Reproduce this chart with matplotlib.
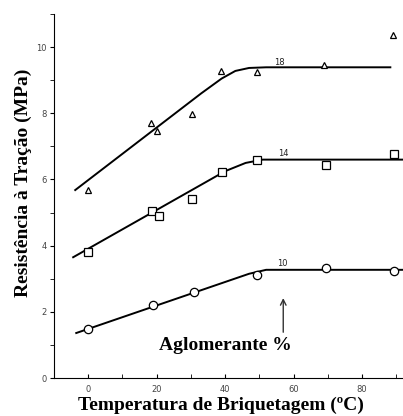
import matplotlib
matplotlib.use("Agg")
import matplotlib.pyplot as plt
from matplotlib.ticker import MultipleLocator

# measured points (temperature degC, strength MPa)
t18 = [0, 18.4, 20.2, 30.4, 38.9, 49.4, 69.0, 89.0]
s18 = [5.68, 7.7, 7.46, 7.98, 9.27, 9.25, 9.46, 10.36]
t14 = [0, 18.6, 20.8, 30.4, 39.1, 49.4, 69.5, 89.3]
s14 = [3.8, 5.05, 4.9, 5.4, 6.22, 6.6, 6.45, 6.77]
t10 = [0, 19.0, 30.8, 49.4, 69.6, 89.3]
s10 = [1.48, 2.2, 2.6, 3.1, 3.32, 3.24]

# fitted curves (knots)
fit18_x = [-3.8, 33, 39, 43, 47, 52, 88.3]
fit18_y = [5.68, 8.6, 9.05, 9.28, 9.37, 9.39, 9.39]
fit14_x = [-4.4, 40, 46, 51, 92]
fit14_y = [3.65, 6.25, 6.5, 6.6, 6.6]
fit10_x = [-3.5, 47, 52, 92]
fit10_y = [1.36, 3.15, 3.27, 3.27]

labels = ["18", "14", "10"]
label_pos = [(56, 9.55), (57, 6.8), (56.6, 3.45)]

fig = plt.figure(figsize=(4.03, 4.16), dpi=100)
ax = fig.add_axes([0.134, 0.0913, 0.866, 0.875])

ax.plot(fit18_x, fit18_y, color="black", lw=1.4)
ax.plot(fit14_x, fit14_y, color="black", lw=1.4)
ax.plot(fit10_x, fit10_y, color="black", lw=1.4)

ax.plot(t18, s18, ls="none", marker="^", ms=5, mfc="white", mec="black", mew=0.9)
ax.plot(t14, s14, ls="none", marker="s", ms=6, mfc="white", mec="black", mew=0.9)
ax.plot(t10, s10, ls="none", marker="o", ms=6, mfc="white", mec="black", mew=0.9)

for lab, (x, y) in zip(labels, label_pos):
    ax.text(x, y, lab, fontsize=6, ha="center", va="center", color="#222222")

ax.annotate("", xy=(57, 2.5), xytext=(57, 1.3),
            arrowprops=dict(arrowstyle="->", color="#333333", lw=1))
ax.text(40, 0.97, "Aglomerante %", family="Liberation Serif", fontweight="bold",
        fontsize=14, ha="center", va="center")

ax.set_xlim(-10, 92)
ax.set_ylim(0, 11)
ax.xaxis.set_major_locator(MultipleLocator(20))
ax.xaxis.set_minor_locator(MultipleLocator(10))
ax.yaxis.set_major_locator(MultipleLocator(2))
ax.yaxis.set_minor_locator(MultipleLocator(1))
ax.tick_params(axis="x", which="both", direction="in", length=3, labelsize=6,
               labelcolor="#444444", pad=5)
ax.tick_params(axis="y", which="both", direction="out", length=3, labelsize=6,
               labelcolor="#444444", pad=2)
for s in ["top", "right"]:
    ax.spines[s].set_visible(False)

ax.set_xlabel("Temperatura de Briquetagem (ºC)", family="Liberation Serif",
              fontweight="bold", fontsize=14)
ax.set_ylabel("Resistência à Tração (MPa)", family="Liberation Serif",
              fontweight="bold", fontsize=14)
ax.xaxis.set_label_coords(0.478, -0.05)
ax.yaxis.set_label_coords(-0.063, 0.536)

fig.savefig("out.png", dpi=100)
